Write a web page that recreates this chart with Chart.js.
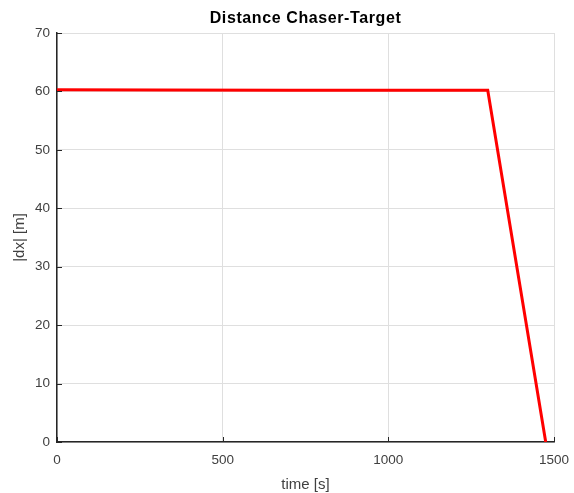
<!DOCTYPE html>
<html>
<head>
<meta charset="utf-8">
<script src="https://cdn.jsdelivr.net/npm/chart.js@4"></script>
<style>
  html, body { margin: 0; padding: 0; background: #fff; }
  #wrap { width: 574px; height: 493px; }
</style>
</head>
<body>
<div id="wrap"><canvas id="c" width="574" height="493"></canvas></div>
<script>
  // data
  const timeS = [0, 300, 700, 1000, 1300, 1475];
  const distM = [60.3, 60.25, 60.2, 60.2, 60.2, 0];
  const xTicks = [0, 500, 1000, 1500];
  const yTicks = [0, 10, 20, 30, 40, 50, 60, 70];

  const chartTitle = 'Distance Chaser-Target';
  const xTitle = 'time [s]';
  const yTitle = '|dx| [m]';

  const axisColor = '#262626';
  const labelColor = '#404040';
  const gridColor = '#dfdfdf';
  const font = '"Liberation Sans", Arial, Helvetica, sans-serif';

  const points = timeS.map((t, i) => ({ x: t, y: distM[i] }));

  // MATLAB-style inward tick marks + titles
  const decor = {
    id: 'decor',
    afterDraw(chart) {
      const { ctx, chartArea: a, scales } = chart;
      ctx.save();
      ctx.strokeStyle = axisColor;
      ctx.lineWidth = 1;
      ctx.beginPath();
      yTicks.forEach(v => {
        const y = Math.round(scales.y.getPixelForValue(v)) + 0.5;
        ctx.moveTo(a.left, y); ctx.lineTo(a.left + 5, y);
      });
      xTicks.forEach(v => {
        const x = Math.round(scales.x.getPixelForValue(v)) + 0.5;
        ctx.moveTo(x, a.bottom); ctx.lineTo(x, a.bottom - 5);
      });
      ctx.stroke();

      ctx.fillStyle = '#000';
      ctx.textAlign = 'center';
      ctx.textBaseline = 'middle';
      ctx.font = 'bold 16px ' + font;
      ctx.letterSpacing = '0.6px';
      ctx.fillText(chartTitle, (a.left + a.right) / 2, 19);
      ctx.letterSpacing = '0px';

      ctx.fillStyle = labelColor;
      ctx.font = '15px ' + font;
      ctx.fillText(xTitle, (a.left + a.right) / 2, 485);
      ctx.translate(20, (a.top + a.bottom) / 2);
      ctx.rotate(-Math.PI / 2);
      ctx.fillText(yTitle, 0, 0);
      ctx.restore();
    }
  };

  new Chart(document.getElementById('c'), {
    type: 'scatter',
    data: {
      datasets: [{
        data: points,
        showLine: true,
        borderColor: '#ff0000',
        borderWidth: 3,
        pointRadius: 0,
        tension: 0
      }]
    },
    options: {
      responsive: false,
      animation: false,
      layout: { padding: { top: 33, right: 20, left: 0, bottom: 0 } },
      plugins: { legend: { display: false }, title: { display: false }, tooltip: { enabled: false } },
      scales: {
        x: {
          type: 'linear', min: 0, max: 1500,
          afterFit(s) { s.height = 51; s.paddingLeft = 0; s.paddingRight = 0; },
          afterBuildTicks(s) { s.ticks = xTicks.map(v => ({ value: v })); },
          grid: { color: gridColor, drawTicks: false },
          border: { color: axisColor, width: 1.5 },
          ticks: { padding: 10, color: labelColor, font: { family: font, size: 13.5 }, maxRotation: 0,
                   callback: v => String(v) }
        },
        y: {
          type: 'linear', min: 0, max: 70,
          afterFit(s) { s.width = 57; s.paddingTop = 0; s.paddingBottom = 0; },
          afterBuildTicks(s) { s.ticks = yTicks.map(v => ({ value: v })); },
          grid: { color: gridColor, drawTicks: false },
          border: { color: axisColor, width: 1.5 },
          ticks: { padding: 7, color: labelColor, font: { family: font, size: 13.5 },
                   callback: v => String(v) }
        }
      }
    },
    plugins: [decor]
  });
</script>
</body>
</html>
